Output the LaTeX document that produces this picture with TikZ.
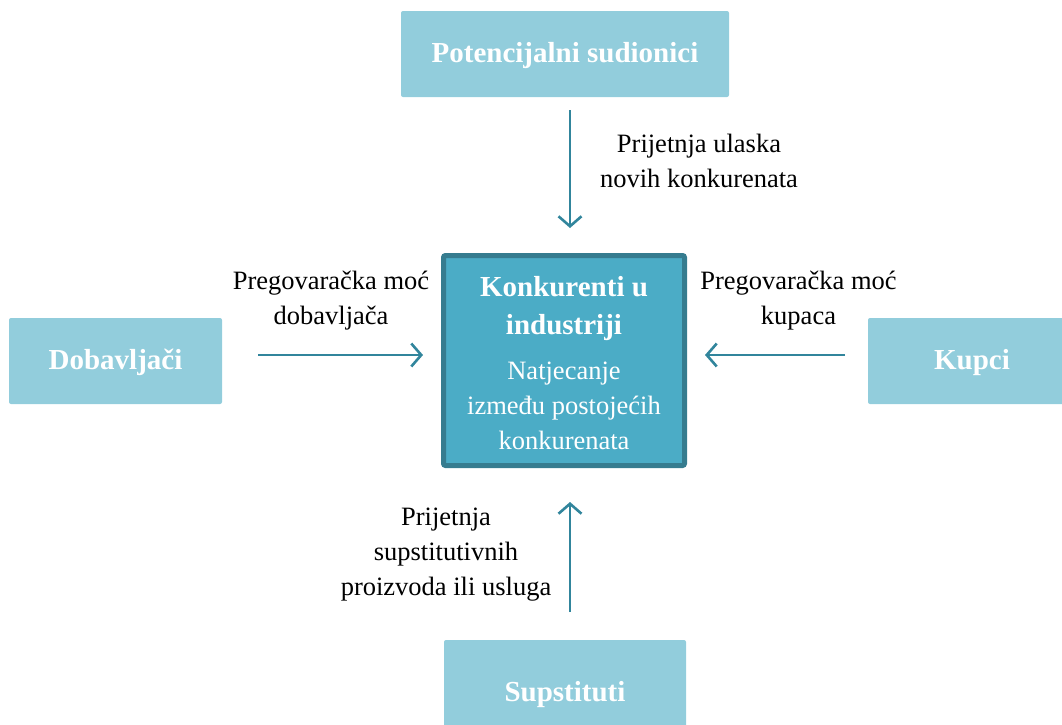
\documentclass[tikz,border=0pt]{standalone}
\usepackage{fontspec}
\setmainfont{Liberation Serif}
\usepackage{tikz}
\usetikzlibrary{arrows.meta,positioning}
\definecolor{lightaqua}{HTML}{92CDDC}
\definecolor{aqua}{HTML}{4BACC6}
\definecolor{darkaqua}{RGB}{54,124,143}
\definecolor{arrowaqua}{HTML}{31859C}
\tikzset{force/.style={fill=lightaqua,rounded corners=2pt,text=white,font=\bfseries\fontsize{29}{38}\selectfont,minimum height=86pt,inner sep=0pt,text height=19pt,text depth=3pt}}
\tikzset{rival/.style={fill=aqua,draw=darkaqua,line width=5pt,rounded corners=2pt,minimum width=241pt,minimum height=210pt}}
\tikzset{lbl/.style={align=center,font=\fontsize{26.5}{35}\selectfont,inner sep=0pt,anchor=base}}
\tikzset{push/.style={draw=arrowaqua,line width=2.6pt,-{Straight Barb[length=10pt,width=23pt,line width=2.6pt]}}}

\begin{document}
\begin{tikzpicture}[x=1pt,y=-1pt]
    \clip (0,0) rectangle (1062,724);
    % boxes
    \node[force,minimum width=328pt] (entrants) at (565,54) {Potencijalni sudionici};
    \node[force,minimum width=213pt] (suppliers) at (115.5,361) {Dobavljači};
    \node[force,minimum width=208pt] (buyers) at (972,361) {Kupci};
    \node[force,minimum width=242pt,minimum height=106pt] (substitutes) at (565,693) {Supstituti};
    \node[rival] (rivalry) at (564,360.5) {};
    % labels (placed at the baseline of their last line)
    \node[lbl,text=white] (rivalrytext) at (564,449) {{\bfseries\fontsize{29}{38}\selectfont Konkurenti u}\\[3pt]{\bfseries\fontsize{29}{38}\selectfont industriji}\\[10pt]Natjecanje\\između postojećih\\konkurenata};
    \node[lbl] (entrantslbl) at (699,187) {Prijetnja ulaska\\novih konkurenata};
    \node[lbl] (supplierslbl) at (331,324) {Pregovaračka moć\\dobavljača};
    \node[lbl] (buyerslbl) at (798.5,324) {Pregovaračka moć\\kupaca};
    \node[lbl] (substituteslbl) at (446,595) {Prijetnja\\supstitutivnih\\proizvoda ili usluga};
    % arrows
    \coordinate (t1) at (570,110);
    \coordinate (t2) at (570,228);
    \coordinate (l1) at (258,355);
    \coordinate (l2) at (423,355);
    \coordinate (r1) at (845,355);
    \coordinate (r2) at (705,355);
    \coordinate (b1) at (570,612);
    \coordinate (b2) at (570,502);
    \draw[push] (t1) -- (t2);
    \draw[push] (l1) -- (l2);
    \draw[push] (r1) -- (r2);
    \draw[push] (b1) -- (b2);
\end{tikzpicture}
\end{document}
